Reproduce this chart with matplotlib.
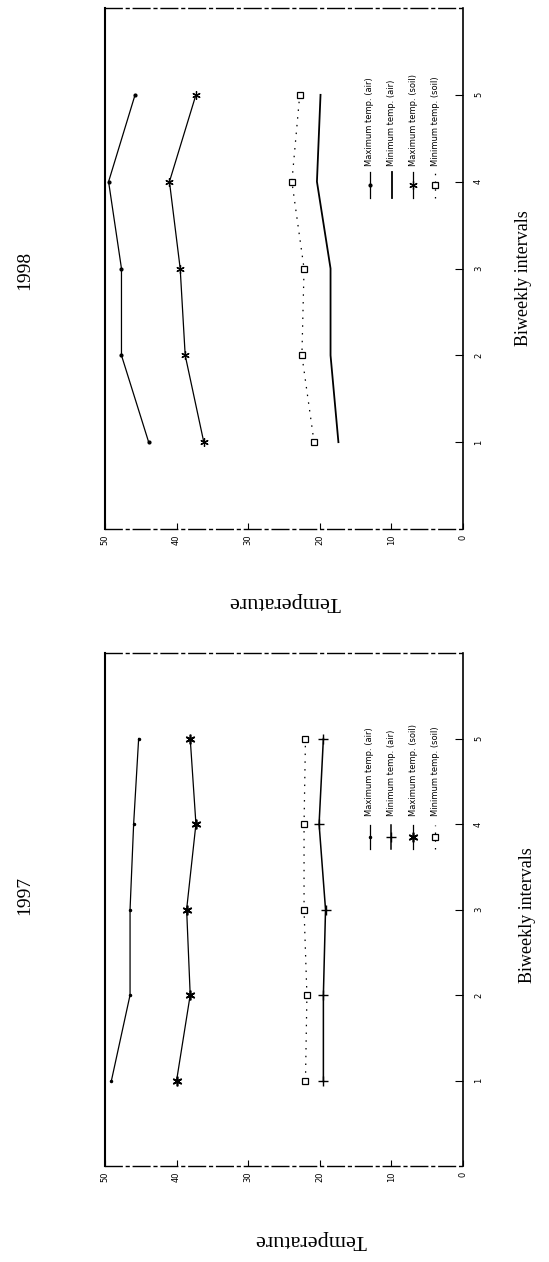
import matplotlib
matplotlib.use('Agg')
import matplotlib.pyplot as plt

# ---------------- data ----------------
intervals = [1, 2, 3, 4, 5]
interval_labels = ['1', '2', '3', '4', '5']
temp_ticks = [0, 10, 20, 30, 40, 50]
temp_tick_labels = ['0', '10', '20', '30', '40', '50']

series_labels = ['Maximum temp. (air)', 'Minimum temp. (air)',
                 'Maximum temp. (soil)', 'Minimum temp. (soil)']

max_air_1998 = [43.9, 47.7, 47.7, 49.5, 45.8]
min_air_1998 = [17.4, 18.5, 18.5, 20.4, 19.9]
max_soil_1998 = [36.2, 38.8, 39.5, 41.0, 37.3]
min_soil_1998 = [20.8, 22.5, 22.2, 23.9, 22.8]

max_air_1997 = [49.1, 46.5, 46.5, 46.0, 45.3]
min_air_1997 = [19.5, 19.5, 19.2, 20.1, 19.5]
max_soil_1997 = [40.0, 38.1, 38.6, 37.3, 38.1]
min_soil_1997 = [22.0, 21.8, 22.2, 22.2, 22.0]

# ---------------- layout helpers ----------------
W, H = 549, 1262
fig = plt.figure(figsize=(W / 100, H / 100), dpi=100)
fig.patch.set_facecolor('white')

def fx(x):
    return x / W

def fy(y):
    return 1 - y / H

SERIF = ['Liberation Serif', 'DejaVu Serif']

styles_1998 = [
    dict(color='black', lw=0.9, marker='.', ms=4),
    dict(color='black', lw=1.3, marker=None),
    dict(color='black', lw=0.9, marker=(6, 2, 0), ms=6, mew=0.9),
    dict(color='black', lw=0.9, ls=(0, (1.2, 5)), marker='s', ms=5,
         mfc='white', mew=0.9),
]
styles_1997 = [
    dict(color='black', lw=0.9, marker='.', ms=3),
    dict(color='black', lw=1.1, marker='+', ms=7, mew=1.0),
    dict(color='black', lw=0.9, marker=(6, 2, 0), ms=7, mew=1.2),
    dict(color='black', lw=0.9, ls=(0, (1.2, 5)), marker='s', ms=5,
         mfc='white', mew=0.9),
]


def make_panel(rect_px, data, styles, legend_cols_px, legend_handle_px, legend_text_px):
    left, top, right, bottom = rect_px
    ax = fig.add_axes([fx(left), fy(bottom), (right - left) / W, (bottom - top) / H])
    for vals, st in zip(data, styles):
        ax.plot(vals, intervals, **st)
    ax.set_xlim(50, 0)
    ax.set_ylim(0, 6)
    ax.set_xticks(temp_ticks)
    ax.set_xticklabels(temp_tick_labels, rotation=90, fontsize=6)
    ax.yaxis.tick_right()
    ax.set_yticks(intervals)
    ax.set_yticklabels(interval_labels, rotation=90, fontsize=6, va='center')
    ax.tick_params(axis='x', direction='in', length=4, width=0.8, pad=4)
    ax.tick_params(axis='y', direction='in', length=6, width=0.8, pad=8)
    for side in ('top', 'bottom'):
        ax.spines[side].set_linestyle((0, (12, 3, 2, 3)))
        ax.spines[side].set_linewidth(1.0)
    ax.spines['left'].set_linewidth(1.5)
    ax.spines['right'].set_linewidth(1.2)

    # hand-drawn rotated legend
    h = bottom - top
    w = right - left
    y0 = (bottom - legend_handle_px[1]) / h
    y1 = (bottom - legend_handle_px[0]) / h
    ym = (y0 + y1) / 2
    yt = (bottom - legend_text_px) / h
    for xc, lab, st in zip(legend_cols_px, series_labels, styles):
        xa = (xc - left) / w
        ax.plot([xa, xa, xa], [y0, ym, y1], transform=ax.transAxes,
                markevery=[1], clip_on=False, **st)
        ax.text(xa, yt, lab, rotation=90, ha='center', va='bottom',
                fontsize=6, transform=ax.transAxes)
    return ax


ax1 = make_panel((105, 8, 463, 529),
                 [max_air_1998, min_air_1998, max_soil_1998, min_soil_1998],
                 styles_1998, [370, 392, 413, 435], (172, 198), 166)
ax2 = make_panel((105, 653, 463, 1166),
                 [max_air_1997, min_air_1997, max_soil_1997, min_soil_1997],
                 styles_1997, [370, 391, 413, 435], (825, 849), 816)

# titles and axis labels (rotated as in the scanned page)
fig.text(fx(25), fy(270), '1998', rotation=90, fontsize=14, family=SERIF,
         ha='center', va='center')
fig.text(fx(523), fy(278), 'Biweekly intervals', rotation=90, fontsize=13,
         family=SERIF, ha='center', va='center')
fig.text(fx(285), fy(602), 'Temperature', rotation=180, fontsize=16,
         family=SERIF, ha='center', va='center')

fig.text(fx(25), fy(895), '1997', rotation=90, fontsize=14, family=SERIF,
         ha='center', va='center')
fig.text(fx(528), fy(915), 'Biweekly intervals', rotation=90, fontsize=13,
         family=SERIF, ha='center', va='center')
fig.text(fx(311), fy(1240), 'Temperature', rotation=180, fontsize=16,
         family=SERIF, ha='center', va='center')

fig.savefig('out.png', dpi=100, facecolor='white')
